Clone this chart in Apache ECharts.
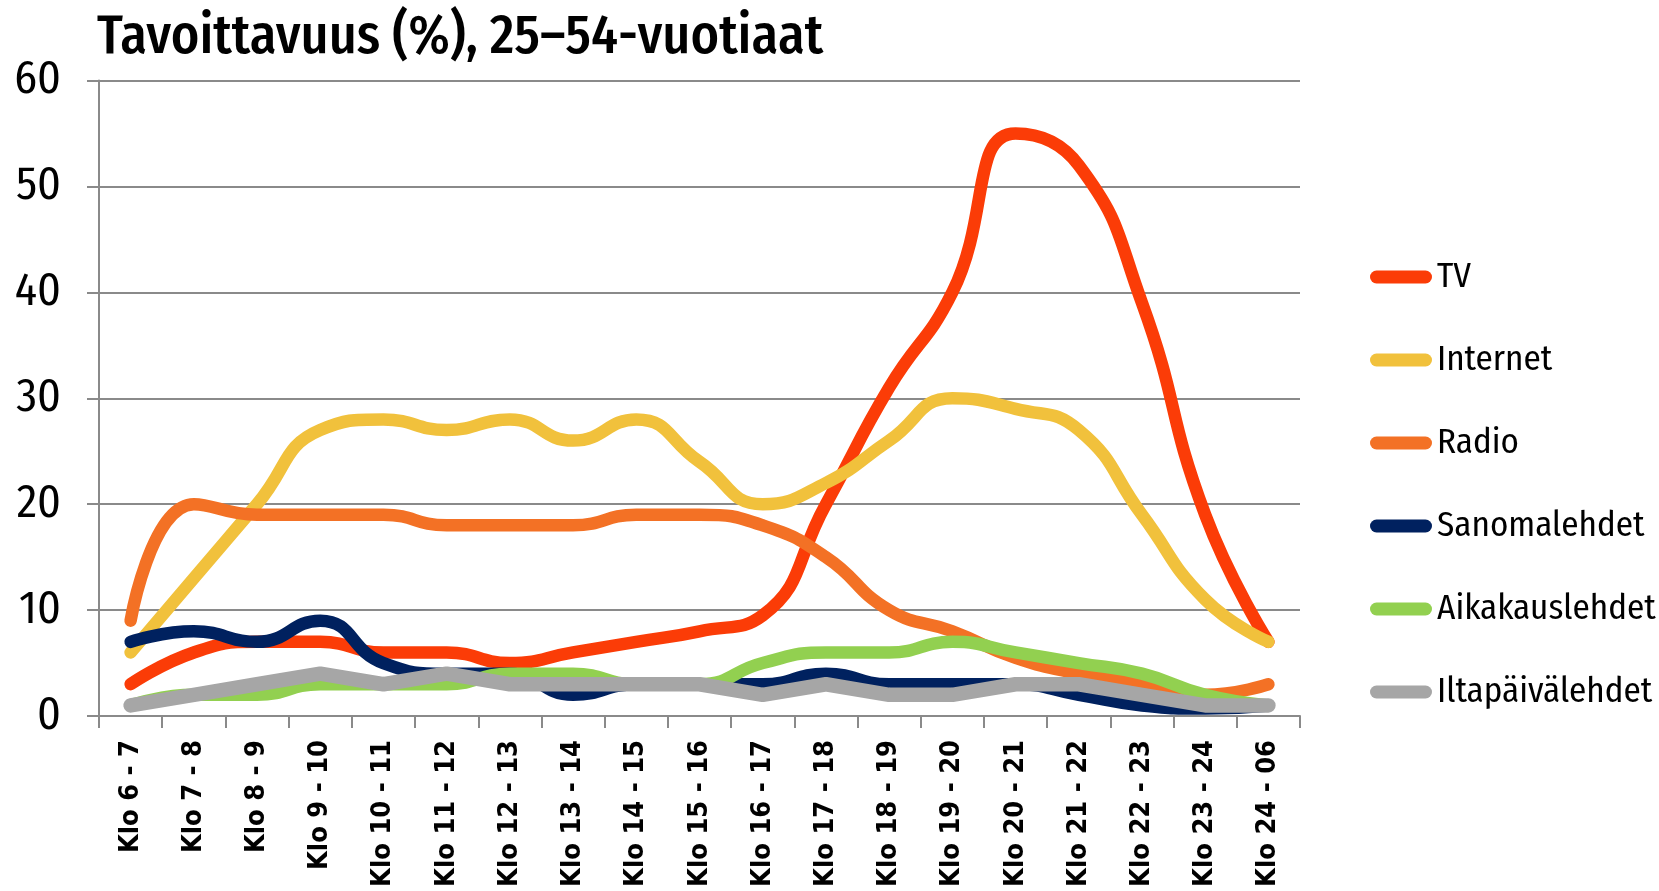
<!DOCTYPE html>
<html>
<head>
<meta charset="utf-8">
<script src="https://cdn.jsdelivr.net/npm/echarts@6/dist/echarts.min.js"></script>
<style>
html,body{margin:0;padding:0;background:#fff;}
#chart{width:1659px;height:891px;}
</style>
</head>
<body>
<div id="chart"></div>
<script>
const categories = ['Klo 6 - 7','Klo 7 - 8','Klo 8 - 9','Klo 9 - 10','Klo 10 - 11','Klo 11 - 12','Klo 12 - 13','Klo 13 - 14','Klo 14 - 15','Klo 15 - 16','Klo 16 - 17','Klo 17 - 18','Klo 18 - 19','Klo 19 - 20','Klo 20 - 21','Klo 21 - 22','Klo 22 - 23','Klo 23 - 24','Klo 24 - 06'];
const tv = [3, 6, 7, 7, 6, 6, 5, 6, 7, 8, 9.5, 20, 31, 40, 55, 52, 39, 19, 7];
const internet = [6, 13, 20, 27, 28, 27, 28, 26, 28, 24, 20, 22, 26, 30, 29, 27, 19, 11, 7];
const radio = [9, 20, 19, 19, 19, 18, 18, 18, 19, 19, 18, 15, 10, 8, 5.5, 4, 3, 2, 3];
const sanomalehdet = [7, 8, 7, 9, 5, 4, 4, 2, 3, 3, 3, 4, 3, 3, 3, 2, 1, 0.7, 1];
const aikakauslehdet = [1, 2, 2, 3, 3, 3, 4, 4, 3, 3, 5, 6, 6, 7, 6, 5, 4, 2, 1];
const iltapaivalehdet = [1, 2, 3, 4, 3, 4, 3, 3, 3, 3, 2, 3, 2, 2, 3, 3, 2, 1, 1];
const yTicks = [0, 10, 20, 30, 40, 50, 60];
const titleText = 'Tavoittavuus (%), 25–54-vuotiaat';

const narrow = '"Fira Sans Condensed", "Roboto Condensed", "DejaVu Sans Condensed", sans-serif';
const seriesDefs = [
  {name: 'TV', data: tv, color: '#fb3c07', width: 12.5, smooth: true},
  {name: 'Internet', data: internet, color: '#f1c13c', width: 12.5, smooth: true},
  {name: 'Radio', data: radio, color: '#f37125', width: 12.5, smooth: true},
  {name: 'Sanomalehdet', data: sanomalehdet, color: '#00215f', width: 12.5, smooth: true},
  {name: 'Aikakauslehdet', data: aikakauslehdet, color: '#92d050', width: 12.5, smooth: true},
  {name: 'Iltapäivälehdet', data: iltapaivalehdet, color: '#a6a6a6', width: 14.5, smooth: false}
];

const chart = echarts.init(document.getElementById('chart'), null, {renderer: 'canvas'});
const legendIcon = 'path://M6.5,0 L55.5,0 A6.5,6.5 0 0 1 55.5,13 L6.5,13 A6.5,6.5 0 0 1 6.5,0 Z';
chart.setOption({
  animation: false,
  backgroundColor: '#fff',
  title: {
    text: titleText,
    left: 97,
    top: 11,
    padding: 0,
    textStyle: {fontFamily: narrow, fontSize: 54, fontWeight: 500, color: '#000'}
  },
  legend: {
    orient: 'vertical',
    left: 1370,
    top: 257,
    padding: 0,
    itemWidth: 62,
    itemHeight: 13,
    itemGap: 43,
    icon: legendIcon,
    textStyle: {fontFamily: narrow, fontSize: 35, color: '#000', lineHeight: 40},
    data: seriesDefs.map(s => ({name: s.name, itemStyle: {color: s.color}}))
  },
  grid: {left: 99, right: 359, top: 80.5, bottom: 175, containLabel: false, outerBoundsMode: 'none'},
  xAxis: {
    type: 'category',
    data: categories,
    boundaryGap: true,
    axisLine: {show: true, lineStyle: {color: '#8a8a8a', width: 2}},
    axisTick: {show: true, inside: false, length: 12, alignWithLabel: false, lineStyle: {color: '#8a8a8a', width: 2}},
    axisLabel: {rotate: 90, margin: 24, interval: 0, fontFamily: '"DejaVu Sans Condensed", "DejaVu Sans", sans-serif', fontWeight: 'bold', fontSize: 27, color: '#000'},
    splitLine: {show: false}
  },
  yAxis: {
    type: 'value',
    min: yTicks[0],
    max: yTicks[yTicks.length - 1],
    interval: 10,
    axisLine: {show: true, lineStyle: {color: '#8a8a8a', width: 2}},
    axisTick: {show: true, inside: false, length: 12, lineStyle: {color: '#8a8a8a', width: 2}},
    axisLabel: {margin: 38, fontFamily: narrow, fontSize: 46, color: '#000'},
    splitLine: {show: true, lineStyle: {color: '#8a8a8a', width: 2}}
  },
  series: seriesDefs.map(s => ({
    name: s.name,
    type: 'line',
    data: s.data,
    smooth: s.smooth,
    showSymbol: false,
    symbol: 'none',
    color: s.color,
    lineStyle: {color: s.color, width: s.width, cap: 'round', join: 'round'},
    emphasis: {disabled: true}
  }))
});
</script>
</body>
</html>
